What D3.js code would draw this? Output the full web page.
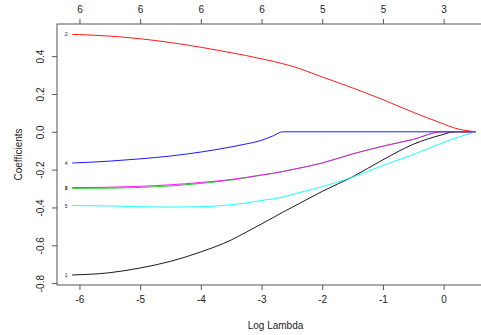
<!DOCTYPE html>
<html>
    <head>
        <meta charset="utf-8">
    </head>
    <style>
        body { margin: 0; background: white; }
        text { font-family: "Liberation Sans", Arial, sans-serif; fill: #222; }
    </style>
    <script src="https://d3js.org/d3.v7.min.js"></script>
    <body onload="main()">
        <svg></svg>
    </body>
    <script>
        // Log lambda path points and coefficient series
        var logLambda = [-6.12, -5.5, -5, -4.5, -4, -3.5, -3.25, -3, -2.8, -2.65, -2.5, -2, -1.5, -1, -0.5, -0.03, 0.18, 0.53]
        var coef1 = [-0.757, -0.745, -0.72, -0.685, -0.635, -0.572, -0.53, -0.487, -0.452, -0.425, -0.40, -0.315, -0.238, -0.148, -0.066, -0.016, 0, 0]
        var coef2 = [0.515, 0.506, 0.492, 0.472, 0.447, 0.418, 0.403, 0.386, 0.372, 0.36, 0.347, 0.29, 0.232, 0.17, 0.103, 0.045, 0.02, 0]
        var coef3 = [-0.299, -0.298, -0.294, -0.286, -0.273, -0.255, -0.243, -0.229, -0.219, -0.21, -0.2, -0.165, -0.117, -0.076, -0.04, 0, 0, 0]
        var coef4 = [-0.165, -0.155, -0.143, -0.128, -0.107, -0.08, -0.064, -0.045, -0.02, 0, 0, 0, 0, 0, 0, 0, 0, 0]
        var coef5 = [-0.39, -0.392, -0.396, -0.398, -0.396, -0.386, -0.376, -0.363, -0.354, -0.345, -0.332, -0.29, -0.24, -0.178, -0.12, -0.06, -0.035, 0]
        var coef6 = [-0.295, -0.293, -0.288, -0.28, -0.268, -0.252, -0.241, -0.228, -0.219, -0.21, -0.2, -0.165, -0.117, -0.076, -0.04, 0, 0, 0]
        var seriesNames = ["1", "2", "3", "4", "5", "6"]
        var seriesColors = ["black", "red", "#00cd00", "blue", "cyan", "magenta"]

        // Axis ticks
        var xTicks = [-6, -5, -4, -3, -2, -1, 0]
        var dfLabels = [6, 6, 6, 6, 5, 5, 3]
        var yTicks = [-0.8, -0.6, -0.4, -0.2, 0.0, 0.2, 0.4]

        function main() {
            var allSeries = [coef1, coef2, coef3, coef4, coef5, coef6]
            var W = 481, H = 335
            var left = 57, right = 494, top = 24, bottom = 285

            var svg = d3.select("svg").attr("width", W).attr("height", H)

            var x = d3.scaleLinear().domain([-6.37, 0.83]).range([left, right])
            var y = d3.scaleLinear().domain([-0.81, 0.57]).range([bottom, top])

            // plot frame (right side falls outside the window)
            svg.append("rect")
                .attr("x", left).attr("y", top)
                .attr("width", right - left).attr("height", bottom - top)
                .attr("fill", "none").attr("stroke", "#555").attr("stroke-width", 1)

            // bottom axis (plain hyphen minus, like R)
            var bAxis = svg.append("g").attr("transform", "translate(0," + bottom + ")")
                .call(d3.axisBottom(x).tickValues(xTicks).tickSize(5).tickPadding(6)
                    .tickFormat(function(d) { return String(d) }))
            // top axis with degrees of freedom
            var tAxis = svg.append("g").attr("transform", "translate(0," + top + ")")
                .call(d3.axisTop(x).tickValues(xTicks).tickSize(5).tickPadding(6)
                    .tickFormat(function(d, i) { return dfLabels[i] }))
            // left axis, labels rotated like R
            var lAxis = svg.append("g").attr("transform", "translate(" + left + ",0)")
                .call(d3.axisLeft(y).tickValues(yTicks).tickSize(5)
                    .tickFormat(function(d) { return d.toFixed(1) }))
            lAxis.selectAll(".tick text")
                .attr("x", null).attr("dy", null)
                .attr("text-anchor", "middle")
                .attr("transform", "translate(-13,0) rotate(-90)")

            ;[bAxis, tAxis, lAxis].forEach(function(a) {
                a.select(".domain").remove()
                a.selectAll(".tick line").attr("stroke", "#555")
                a.selectAll(".tick text").style("font-size", "10px").attr("fill", "#222")
                a.attr("font-family", null)
            })

            // coefficient paths
            var line = d3.line()
                .x(function(d, i) { return x(logLambda[i]) })
                .y(function(d) { return y(d) })
                .curve(d3.curveMonotoneX)

            svg.append("g")
                .selectAll("path")
                .data(allSeries)
                .enter().append("path")
                .attr("d", line)
                .attr("fill", "none")
                .attr("stroke", function(d, i) { return seriesColors[i] })
                .attr("stroke-width", 0.9)

            // small series labels at left end
            svg.append("g")
                .selectAll("text")
                .data(allSeries)
                .enter().append("text")
                .attr("x", x(logLambda[0]) - 6)
                .attr("y", function(d) { return y(d[0]) + 2 })
                .attr("text-anchor", "middle")
                .style("font-size", "5px")
                .text(function(d, i) { return seriesNames[i] })

            // axis titles
            svg.append("text")
                .attr("x", (left + right) / 2)
                .attr("y", 329)
                .attr("text-anchor", "middle")
                .style("font-size", "10px")
                .text("Log Lambda")
            svg.append("text")
                .attr("transform", "translate(22," + (top + bottom) / 2 + ") rotate(-90)")
                .attr("text-anchor", "middle")
                .style("font-size", "10px")
                .text("Coefficients")
        }
    </script>
</html>
